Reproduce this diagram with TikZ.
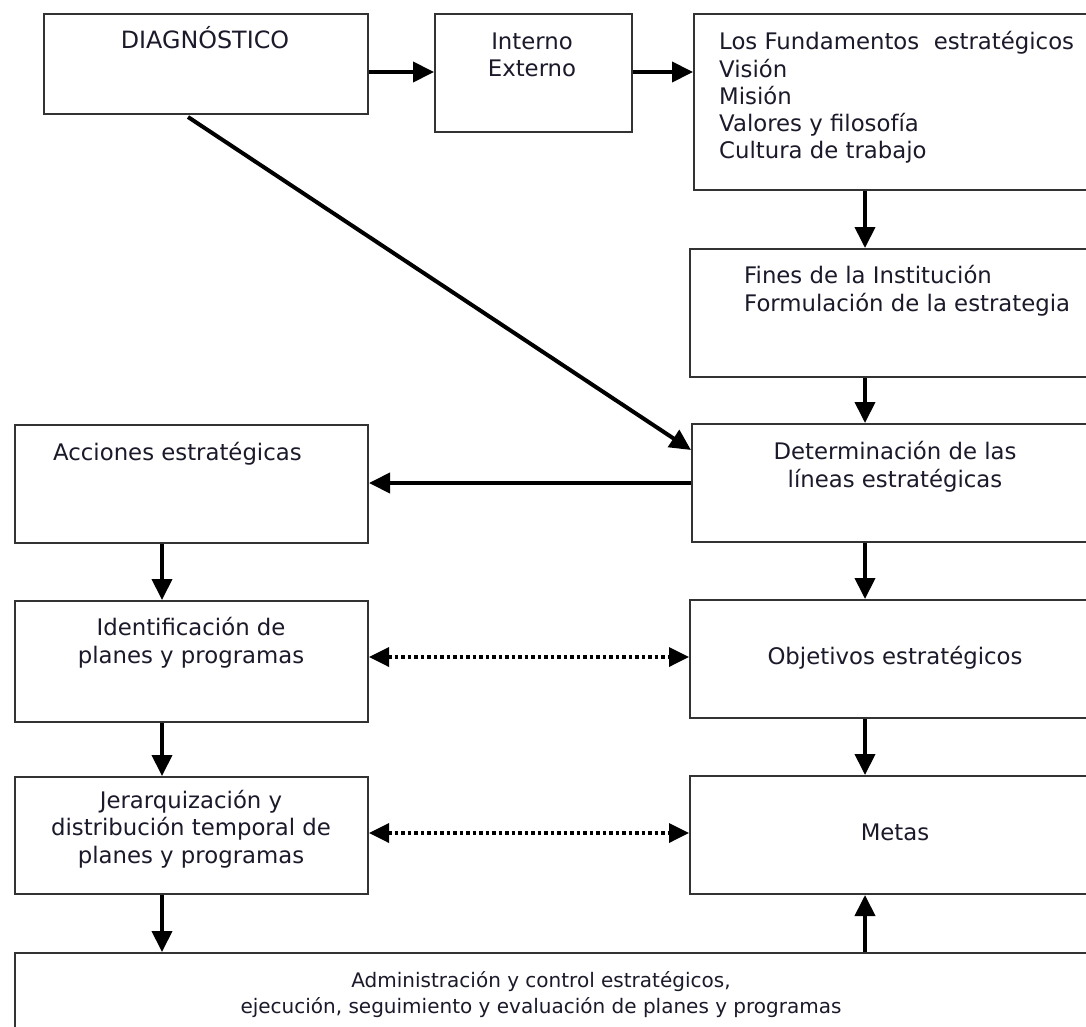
\documentclass[tikz,border=0pt]{standalone}
\usepackage{fontspec}
\setmainfont{DejaVu Sans}
\usetikzlibrary{arrows.meta}
\definecolor{boxline}{HTML}{333333}
\definecolor{txtcol}{HTML}{1A1A2A}
\tikzset{
  box/.style={draw=boxline, line width=2pt, rectangle, inner sep=0pt, anchor=north west},
  txt/.style={font=\fontsize{22.8}{27.3}\selectfont, text=txtcol, inner sep=0pt, anchor=base},
  txtl/.style={txt, align=left, anchor=base west},
  txtc/.style={txt, align=center},
  txts/.style={txtc, font=\fontsize{20}{25.5}\selectfont},
  arr/.style={line width=4pt, -{Triangle[length=21pt,width=20pt]}},
  darr/.style={line width=3.5pt, dash pattern=on 3.5pt off 3pt, {Triangle[length=20pt,width=19pt]}-{Triangle[length=20pt,width=19pt]}}
}
\begin{document}
\begin{tikzpicture}[x=1pt,y=-1pt]
\useasboundingbox (0,0) rectangle (1086,1027);
\fill[white] (0,0) rectangle (1086,1027);
\clip (0,0) rectangle (1086,1027);
% boxes
\node[box, minimum width=324pt, minimum height=100pt] (diag) at (43,13) {};
\node[box, minimum width=197pt, minimum height=118pt] (int) at (434,13) {};
\node[box, minimum width=420pt, minimum height=176pt] (fund) at (693,13) {};
\node[box, minimum width=420pt, minimum height=128pt] (fines) at (689,248) {};
\node[box, minimum width=420pt, minimum height=118pt] (det) at (691,423) {};
\node[box, minimum width=353pt, minimum height=118pt] (acc) at (14,424) {};
\node[box, minimum width=353pt, minimum height=121pt] (ident) at (14,600) {};
\node[box, minimum width=420pt, minimum height=118pt] (obj) at (689,599) {};
\node[box, minimum width=353pt, minimum height=117pt] (jer) at (14,776) {};
\node[box, minimum width=420pt, minimum height=118pt] (metas) at (689,775) {};
\node[box, minimum width=1100pt, minimum height=120pt] (adm) at (14,952) {};
% texts (anchor = baseline of last line)
\node[txtc, font=\fontsize{23.8}{27.3}\selectfont] (tdiag) at (205,49) {DIAGNÓSTICO};
\node[txtc] (tint) at (532,77) {Interno\\Externo};
\node[txtl] (tfund) at (719,159) {Los Fundamentos\ \ estratégicos\\Visión\\Misión\\Valores y filosofía\\Cultura de trabajo};
\node[txtl] (tfines) at (744,311) {Fines de la Institución\\Formulación de la estrategia};
\node[txtc] (tdet) at (895,487) {Determinación de las\\líneas estratégicas};
\node[txtl] (tacc) at (53,460) {Acciones estratégicas};
\node[txtc] (tident) at (191,663) {Identificación de\\planes y programas};
\node[txtc] (tobj) at (895,664) {Objetivos estratégicos};
\node[txtc] (tjer) at (191,863) {Jerarquización y\\distribución temporal de\\planes y programas};
\node[txtc] (tmetas) at (895,840) {Metas};
\node[txts] (tadm) at (541,1013) {Administración y control estratégicos,\\ejecución, seguimiento y evaluación de planes y programas};
% connectors
\draw[arr] (diag.east |- 0,72) -- (int.west |- 0,72);
\draw[arr] (int.east |- 0,72) -- (fund.west |- 0,72);
\draw[arr] (fund.south -| 865,0) -- (fines.north -| 865,0);
\draw[arr] (fines.south -| 865,0) -- (det.north -| 865,0);
\draw[arr] (det.south -| 865,0) -- (obj.north -| 865,0);
\draw[arr] (obj.south -| 865,0) -- (metas.north -| 865,0);
\draw[arr] (adm.north -| 865,0) -- (metas.south -| 865,0);
\draw[arr] (det.west |- 0,483) -- (acc.east |- 0,483);
\draw[arr] (acc.south -| 162,0) -- (ident.north -| 162,0);
\draw[arr] (ident.south -| 162,0) -- (jer.north -| 162,0);
\draw[arr] (jer.south -| 162,0) -- (adm.north -| 162,0);
\coordinate (dstart) at (188,117);
\draw[arr] (dstart) -- (det.west |- 0,450);
\draw[darr] (ident.east |- 0,657) -- (obj.west |- 0,657);
\draw[darr] (jer.east |- 0,833) -- (metas.west |- 0,833);
\end{tikzpicture}
\end{document}
